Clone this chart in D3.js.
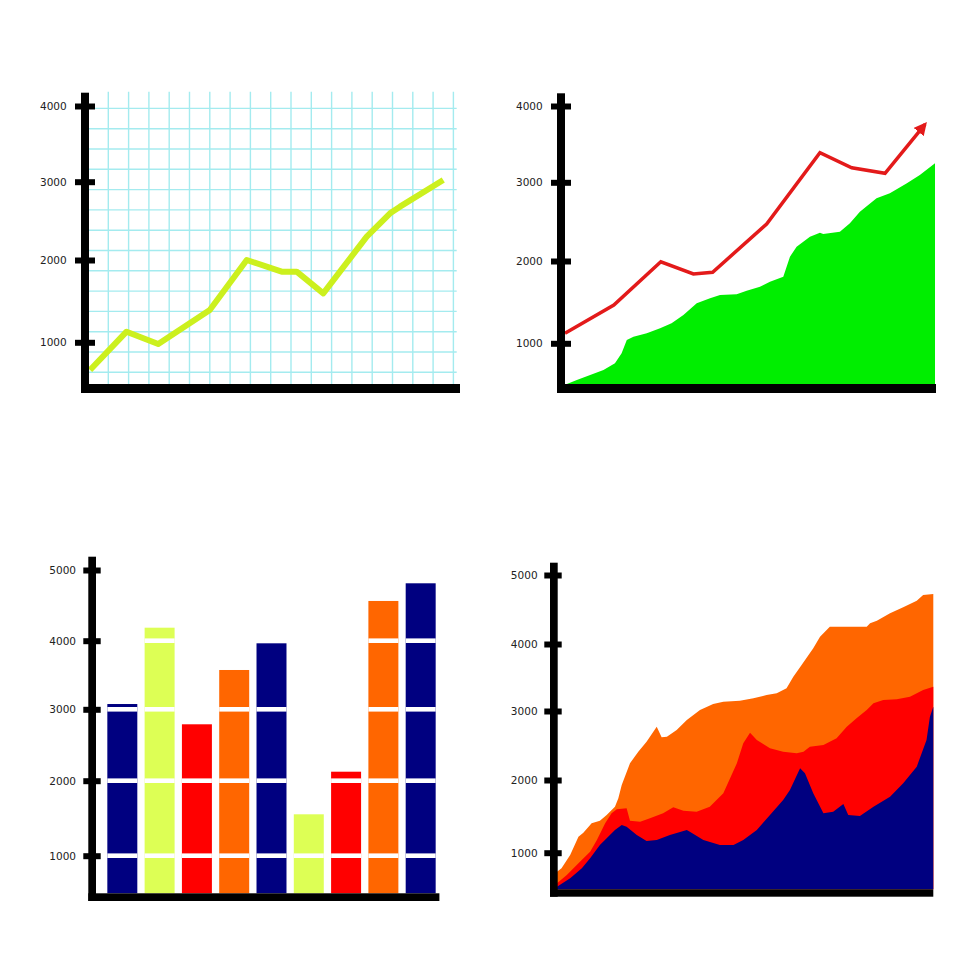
<!DOCTYPE html>
<html><head><meta charset="utf-8">
<script src="https://cdn.jsdelivr.net/npm/d3@7"></script>
<style>html,body{margin:0;padding:0;background:#fff;}svg{display:block;}</style>
</head><body><svg id="c" width="980" height="980"></svg>
<script>
// ---------- DATA ----------
// Chart A (top-left): line over grid
const lineX = [0.1, 1.9, 3.46, 6.0, 7.82, 9.54, 10.28, 11.59, 13.73, 14.88, 15.37, 17.5];
const lineY = [663, 1129, 979, 1392, 2000, 1858, 1858, 1595, 2298, 2596, 2681, 3022];
const ticksA = [1000, 2000, 3000, 4000];

// Chart B (top-right): red arrow line + green area
const redX = [0, 13.2, 25.9, 34.7, 39.9, 54.5, 68.9, 77.5, 86.5, 97.3];
const redY = [1122, 1465, 1991, 1842, 1863, 2470, 3388, 3191, 3118, 3760];
const greenX = [0.5, 3.2, 6.8, 10.4, 13.5, 15.3, 16.7, 18.5, 22.1, 25.7, 28.8, 32, 35.6, 39.2, 41.9, 46.4, 49.1, 52.7, 55.4, 59, 60.8, 62.6, 66.2, 68.9, 69.8, 74.3, 77, 79.7, 84.2, 87.8, 92.4, 95.9, 100];
const greenY = [505, 554, 614, 675, 757, 878, 1040, 1080, 1122, 1182, 1243, 1344, 1486, 1547, 1587, 1595, 1639, 1688, 1748, 1809, 2055, 2182, 2309, 2360, 2343, 2372, 2479, 2626, 2797, 2860, 2987, 3096, 3249];
const ticksB = [1000, 2000, 3000, 4000];

// Chart C (bottom-left): bars
const barCats = ["b1", "b2", "b3", "b4", "b5", "b6", "b7", "b8", "b9"];
const barValues = [3077, 4184, 2790, 3573, 3962, 1552, 2126, 4562, 4812];
const barColors = ["#000080", "#ddff55", "#ff0000", "#ff6600", "#000080", "#ddff55", "#ff0000", "#ff6600", "#000080"];
const ticksC = [1000, 2000, 3000, 4000, 5000];

// Chart D (bottom-right): overlapping areas
const orangeX = [0, 1.2, 3.5, 5.7, 7, 9.2, 11.4, 13.2, 15.4, 16.3, 17.2, 19.4, 21.6, 23.8, 26.5, 27.8, 29.2, 31.8, 34.5, 38, 41.5, 44.2, 48.6, 52.2, 55.7, 58.4, 61, 62.8, 65, 68.1, 69.9, 72.5, 77.9, 82.3, 83.2, 85, 88.5, 92, 95.6, 97.3, 100];
const orangeY = [739, 785, 968, 1220, 1275, 1404, 1440, 1519, 1633, 1748, 1931, 2242, 2410, 2555, 2772, 2619, 2628, 2725, 2870, 3015, 3104, 3139, 3154, 3190, 3239, 3264, 3339, 3512, 3687, 3936, 4106, 4251, 4251, 4251, 4300, 4338, 4445, 4532, 4628, 4710, 4725];
const redAX = [0, 2.6, 6.1, 8.8, 10.6, 12.8, 14.5, 15.9, 18.5, 19.4, 22.1, 24.7, 28.2, 30.9, 33.6, 37.1, 40.6, 44.2, 47.8, 49.5, 51.3, 53.1, 56.6, 60.1, 63.7, 65.5, 67.2, 70.8, 74.3, 77, 79.6, 82.3, 84.1, 86.7, 90.3, 93.8, 97.3, 100];
const redAY = [579, 693, 876, 1014, 1175, 1404, 1542, 1597, 1611, 1440, 1426, 1473, 1542, 1624, 1578, 1564, 1633, 1817, 2242, 2532, 2686, 2580, 2459, 2410, 2386, 2410, 2483, 2507, 2604, 2772, 2894, 3015, 3115, 3164, 3175, 3213, 3313, 3363];
const navyX = [0, 3.5, 6.6, 8.8, 11.4, 13.2, 15.4, 17.2, 18.5, 21.2, 23.8, 26.5, 30, 34.5, 35.3, 38.9, 43.3, 46.9, 49.5, 53.1, 56.6, 60.1, 61.9, 64.6, 65.9, 68.1, 70.8, 73.4, 76.1, 77.4, 80.5, 84.1, 88.5, 92, 95.6, 98.2, 99.1, 100];
const navyY = [532, 648, 785, 923, 1106, 1198, 1312, 1381, 1358, 1243, 1161, 1175, 1243, 1312, 1289, 1175, 1106, 1106, 1175, 1312, 1519, 1725, 1862, 2170, 2097, 1817, 1542, 1564, 1670, 1519, 1505, 1633, 1770, 1955, 2193, 2580, 2917, 3064];
const ticksD = [1000, 2000, 3000, 4000, 5000];

// ---------- DRAW ----------
const svg = d3.select("#c");
const zip = (xs, ys) => xs.map((x, i) => [x, ys[i]]);

function drawAxes(L, yScale, ticks) {
  const g = svg.append("g");
  // tick marks + labels via d3 axis
  const ax = d3.axisLeft(yScale).tickValues(ticks).tickFormat(d3.format("d"))
    .tickSizeInner(L.tickLen).tickSizeOuter(0).tickPadding(L.tickPad);
  const ag = g.append("g").attr("transform", `translate(${L.tickRight},0)`).call(ax);
  ag.select(".domain").remove();
  ag.selectAll(".tick line").attr("stroke", "#000").attr("stroke-width", 6);
  ag.selectAll(".tick text").attr("fill", "#222")
    .style("font-family", "'DejaVu Sans', sans-serif").style("font-size", "10.5px");
  // vertical & horizontal axis bars
  g.append("rect").attr("x", L.vx0).attr("y", L.top).attr("width", L.vx1 - L.vx0).attr("height", L.hy1 - L.top).attr("fill", "#000");
  g.append("rect").attr("x", L.vx0).attr("y", L.hy0).attr("width", L.right - L.vx0).attr("height", L.hy1 - L.hy0).attr("fill", "#000");
}

// ---- Chart A ----
{
  const L = {vx0: 81, vx1: 89, top: 92.7, hy0: 384, hy1: 393, right: 460, tickRight: 95, tickLen: 20, tickPad: 8.3};
  const x = d3.scaleLinear().domain([0, 18]).range([88, 453.4]);
  const gy = d3.scaleLinear().domain([0, 14]).range([392.6, 108.4]);
  const y = d3.scaleLinear().domain([1000, 2000, 3000, 4000]).range([342.3, 260, 181.7, 106]);
  const grid = svg.append("g").attr("stroke", "#a4ebef").attr("stroke-width", 1.4);
  grid.selectAll("line.v").data(d3.range(1, 19)).join("line").attr("class", "v")
    .attr("x1", d => x(d)).attr("x2", d => x(d)).attr("y1", 91.7).attr("y2", L.hy0);
  grid.selectAll("line.h").data(d3.range(1, 15)).join("line").attr("class", "h")
    .attr("x1", L.vx1).attr("x2", 456.7).attr("y1", d => gy(d)).attr("y2", d => gy(d));
  svg.append("path").datum(zip(lineX, lineY))
    .attr("d", d3.line().x(d => x(d[0])).y(d => y(d[1])))
    .attr("fill", "none").attr("stroke", "#ccf01e").attr("stroke-width", 6)
    .attr("stroke-linejoin", "round");
  drawAxes(L, y, ticksA);
}

// ---- Chart B ----
{
  const L = {vx0: 557, vx1: 565, top: 93.3, hy0: 384, hy1: 393, right: 936, tickRight: 571, tickLen: 20, tickPad: 8.3};
  const x = d3.scaleLinear().domain([0, 100]).range([565, 935]);
  const y = d3.scaleLinear().domain([1000, 2000, 3000, 4000]).range([343.3, 261, 182.3, 106]);
  svg.append("path").datum(zip(greenX, greenY))
    .attr("d", d3.area().x(d => x(d[0])).y0(L.hy0).y1(d => y(d[1])))
    .attr("fill", "#00ee00");
  const defs = svg.append("defs");
  defs.append("marker").attr("id", "arrow").attr("markerUnits", "userSpaceOnUse")
    .attr("viewBox", "0 0 13 13").attr("markerWidth", 13).attr("markerHeight", 13)
    .attr("refX", 10).attr("refY", 6.5).attr("orient", "auto")
    .append("path").attr("d", "M0,0 L13,6.5 L0,13 Z").attr("fill", "#e31a1a");
  svg.append("path").datum(zip(redX, redY))
    .attr("d", d3.line().x(d => x(d[0])).y(d => y(d[1])))
    .attr("fill", "none").attr("stroke", "#e31a1a").attr("stroke-width", 3.5)
    .attr("stroke-linejoin", "miter").attr("marker-end", "url(#arrow)");
  drawAxes(L, y, ticksB);
}

// ---- Chart C ----
{
  const L = {vx0: 88.3, vx1: 96, top: 556.7, hy0: 893.3, hy1: 901, right: 439.4, tickRight: 100.7, tickLen: 17.4, tickPad: 7.3};
  const x = d3.scaleBand().domain(barCats).range([103.6, 439.4]).paddingInner(0.196).paddingOuter(0.1);
  const y = d3.scaleLinear().domain([1000, 2000, 3000, 4000, 5000]).range([855.7, 780.7, 709.3, 640.7, 570]);
  const bars = barCats.map((c, i) => ({c, v: barValues[i], col: barColors[i]}));
  svg.append("g").selectAll("rect").data(bars).join("rect")
    .attr("x", d => x(d.c)).attr("width", x.bandwidth())
    .attr("y", d => y(d.v)).attr("height", d => L.hy0 - y(d.v))
    .attr("fill", d => d.col);
  // white separators at tick levels
  const seps = [];
  bars.forEach(b => ticksC.forEach(t => { if (b.v > t) seps.push({c: b.c, t}); }));
  svg.append("g").selectAll("line").data(seps).join("line")
    .attr("x1", d => x(d.c)).attr("x2", d => x(d.c) + x.bandwidth())
    .attr("y1", d => y(d.t)).attr("y2", d => y(d.t))
    .attr("stroke", "#fff").attr("stroke-width", 4.6);
  drawAxes(L, y, ticksC);
}

// ---- Chart D ----
{
  const L = {vx0: 550, vx1: 557.7, top: 562.7, hy0: 889.3, hy1: 896.7, right: 933.3, tickRight: 561.7, tickLen: 17.4, tickPad: 6.7};
  const x = d3.scaleLinear().domain([0, 100]).range([557, 933.3]);
  const y = d3.scaleLinear().domain([1000, 2000, 3000, 4000, 5000]).range([852.7, 780, 711, 644, 575]);
  const area = d3.area().x(d => x(d[0])).y0(L.hy0).y1(d => y(d[1]));
  const layers = [
    {d: zip(orangeX, orangeY), c: "#ff6600"},
    {d: zip(redAX, redAY), c: "#ff0000"},
    {d: zip(navyX, navyY), c: "#000080"}
  ];
  svg.append("g").selectAll("path").data(layers).join("path")
    .attr("d", l => area(l.d)).attr("fill", l => l.c);
  drawAxes(L, y, ticksD);
}
</script></body></html>
